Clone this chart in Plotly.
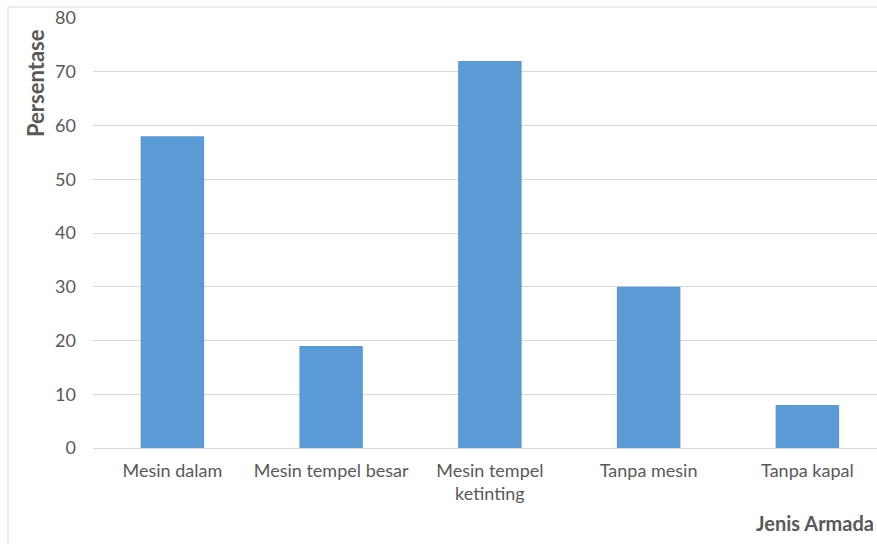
import plotly.graph_objects as go

categories = ["Mesin dalam", "Mesin tempel besar", "Mesin tempel<br>ketinting", "Tanpa mesin", "Tanpa kapal"]
persentase = [58, 19, 72, 30, 8]
y_ticks = [0, 10, 20, 30, 40, 50, 60, 70, 80]

W, H = 877, 544
L, R, T, B = 93, 0, 18, 96
pw, ph = W - L - R, H - T - B

def px_x(x):
    return (x - L) / pw

def px_y(y):
    return (H - B - y) / ph

font = "Lato"
grey = "#595959"
grid = "#d9d9d9"

fig = go.Figure(go.Bar(
    x=list(range(len(categories))),
    y=persentase,
    marker=dict(color="#5b9bd5", line=dict(width=0)),
    width=0.4,
))

fig.update_layout(
    width=W, height=H,
    margin=dict(l=L, r=R, t=T, b=B),
    paper_bgcolor="white", plot_bgcolor="white",
    showlegend=False,
    font=dict(family=font, size=18, color=grey),
    xaxis=dict(
        tickmode="array",
        tickvals=list(range(len(categories))),
        ticktext=categories,
        range=[-0.5, -0.5 + pw / 158.75],
        showgrid=False, zeroline=False,
        showline=False, ticks="",
        ticklabelstandoff=10,
        tickfont=dict(family=font, size=18, color=grey),
    ),
    yaxis=dict(
        range=[0, 80],
        tickvals=y_ticks,
        showgrid=True, gridcolor=grid, gridwidth=1,
        zeroline=True, zerolinecolor=grid, zerolinewidth=1,
        showline=False, ticks="",
        ticklabelstandoff=16,
        tickfont=dict(family=font, size=18, color=grey),
    ),
    annotations=[
        dict(text="<b>Persentase</b>", textangle=-90,
             x=px_x(35), y=px_y(83), xref="paper", yref="paper",
             xanchor="center", yanchor="middle", showarrow=False,
             font=dict(family=font, size=22, color=grey)),
        dict(text="<b>Jenis Armada</b>",
             x=px_x(876), y=px_y(523), xref="paper", yref="paper",
             xanchor="right", yanchor="middle", showarrow=False,
             font=dict(family=font, size=20, color=grey)),
    ],
    shapes=[
        dict(type="line", xref="paper", yref="paper",
             x0=px_x(8), x1=px_x(8), y0=px_y(7), y1=px_y(560),
             line=dict(color=grid, width=1)),
        dict(type="line", xref="paper", yref="paper",
             x0=px_x(8), x1=px_x(900), y0=px_y(7), y1=px_y(7),
             line=dict(color=grid, width=1)),
    ],
)

fig.write_html("out.html")
